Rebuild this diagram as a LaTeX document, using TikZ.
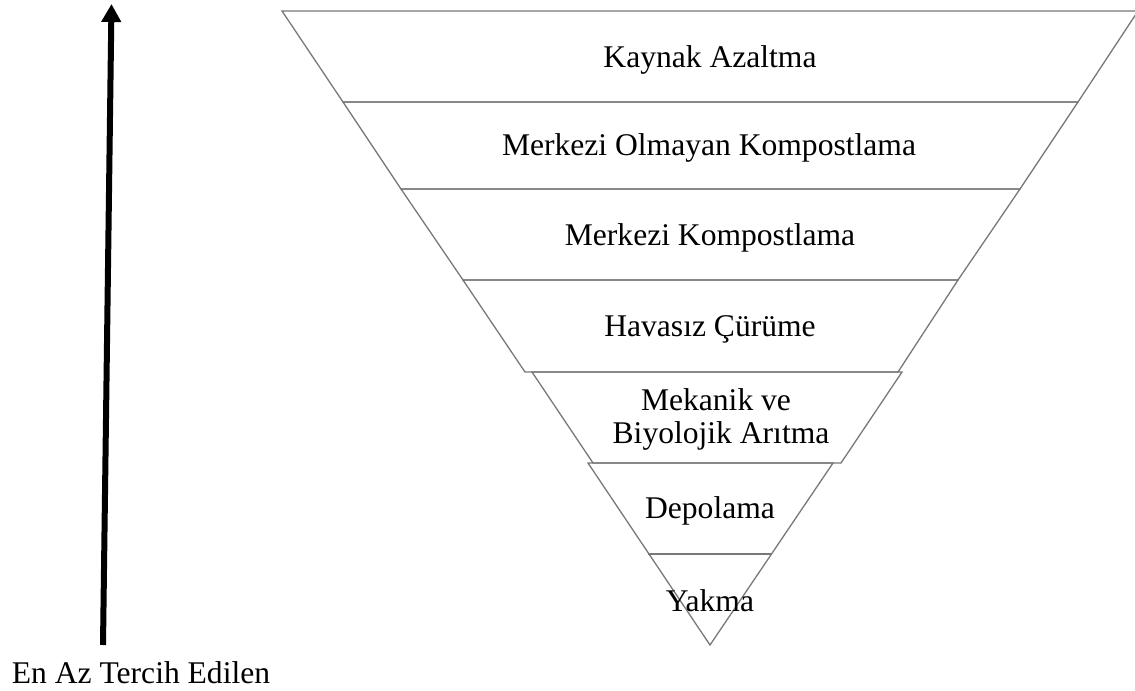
\documentclass[tikz,border=0pt]{standalone}
\usepackage{fontspec}
\setmainfont{Liberation Serif}
\usetikzlibrary{arrows.meta}
\definecolor{edgegray}{RGB}{120,120,120}
\tikzset{
  band/.style={draw=edgegray, line width=1.3bp, line join=miter},
  lbl/.style={anchor=base, inner sep=0pt, font=\fontsize{31.7}{33}\selectfont, text=black},
  bigarrow/.style={line width=6bp, -{Triangle[width=19bp,length=18bp]}, black}
}
\begin{document}
\begin{tikzpicture}[x=1bp,y=-1bp]
\useasboundingbox (0,0) rectangle (1135,691);
% top four bands
\draw[band] (282,11) -- (1138,11) -- (1078,102) -- (343,102) -- cycle;
\draw[band] (343,102) -- (1078,102) -- (1020,189) -- (401,189) -- cycle;
\draw[band] (401,189) -- (1020,189) -- (958,280) -- (463,280) -- cycle;
\draw[band] (463,280) -- (958,280) -- (898,372) -- (525,372) -- cycle;
% fifth band (offset)
\draw[band] (532,372) -- (902,372) -- (841,463) -- (593,463) -- cycle;
% bottom triangle with divider
\draw[band] (588,463) -- (833,463) -- (710,645) -- cycle;
\draw[band] (648,554) -- (772,554);
% labels
\node[lbl] (l1) at (710,68) {Kaynak Azaltma};
\node[lbl] (l2) at (709,156) {Merkezi Olmayan Kompostlama};
\node[lbl] (l3) at (710,245) {Merkezi Kompostlama};
\node[lbl] (l4) at (710,336) {Havasız Çürüme};
\node[lbl] (l5a) at (716,410) {Mekanik ve};
\node[lbl] (l5b) at (721,443) {Biyolojik Arıtma};
\node[lbl] (l6) at (710,518) {Depolama};
\node[lbl] (l7) at (710,611) {Yakma};
% arrow
\coordinate (abot) at (103,645);
\coordinate (atop) at (111.5,4);
\draw[bigarrow] (abot) -- (atop);
\node[lbl] (least) at (141,683) {En Az Tercih Edilen};
\end{tikzpicture}
\end{document}
